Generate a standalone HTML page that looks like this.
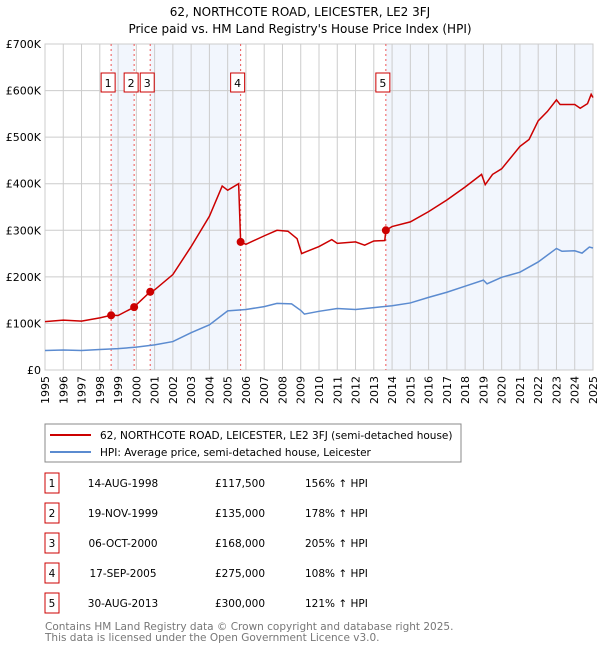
<!DOCTYPE html>
<html><head><meta charset="utf-8"><style>
body{margin:0;background:#fff;font-family:"DejaVu Sans","Liberation Sans",sans-serif;}
svg text{font-family:"DejaVu Sans","Liberation Sans",sans-serif;}
</style></head><body>
<svg id="chart" width="600" height="650" xmlns="http://www.w3.org/2000/svg">
<text x="300" y="16" text-anchor="middle" font-size="12">62, NORTHCOTE ROAD, LEICESTER, LE2 3FJ</text>
<text x="300" y="33" text-anchor="middle" font-size="12">Price paid vs. HM Land Registry's House Price Index (HPI)</text>
<g id="bands"></g><g id="grid"></g><g id="lines"></g><g id="marks"></g><g id="axes"></g>
<rect x="45" y="424" width="416" height="38" fill="none" stroke="#888"/>
<line x1="50" y1="435" x2="91" y2="435" stroke="#cc0000" stroke-width="2"/>
<text x="100" y="439" font-size="10.5">62, NORTHCOTE ROAD, LEICESTER, LE2 3FJ (semi-detached house)</text>
<line x1="50" y1="452" x2="91" y2="452" stroke="#5b8bd0" stroke-width="2"/>
<text x="100" y="456" font-size="10.5">HPI: Average price, semi-detached house, Leicester</text>
<g id="table"></g>
<text x="45" y="630" font-size="10.5" fill="#777">Contains HM Land Registry data © Crown copyright and database right 2025.</text>
<text x="45" y="641" font-size="10.5" fill="#777">This data is licensed under the Open Government Licence v3.0.</text>
</svg>
<script>
const hpiYears=[1995,1996,1997,1998,1999,2000,2001,2002,2003,2004,2005,2006,2007,2007.7,2008.5,2009,2009.2,2010,2011,2012,2013,2014,2015,2016,2017,2018,2019,2019.2,2020,2021,2022,2023,2023.3,2024,2024.4,2024.8,2025];
const hpiValues=[42,43,42,44,46,49,54,61,80,97,127,130,136,143,142,128,120,126,132,130,134,138,144,156,167,180,193,185,199,210,232,261,255,256,251,264,262];
const redYears=[1995,1996,1997,1998,1998.62,1999,1999.88,2000,2000.76,2001,2002,2003,2004,2004.7,2005,2005.6,2005.71,2006,2007,2007.7,2008.3,2008.8,2009.05,2009.3,2010,2010.7,2011,2012,2012.5,2013,2013.6,2013.66,2014,2015,2016,2017,2018,2018.9,2019.1,2019.5,2020,2021,2021.5,2022,2022.5,2023,2023.2,2024,2024.3,2024.7,2024.9,2025];
const redValues=[104,107,105,112,117.5,117,135,140,168,172,205,265,330,395,386,400,275,270,288,300,298,282,250,254,265,280,272,275,268,277,278,300,308,318,340,365,393,420,398,420,432,480,495,535,555,580,570,570,562,572,592,585];
const saleYears=[1998.62,1999.88,2000.76,2005.71,2013.66];
const salePrices=[117500,135000,168000,275000,300000];
const saleLabels=["1","2","3","4","5"];
const saleDates=["14-AUG-1998","19-NOV-1999","06-OCT-2000","17-SEP-2005","30-AUG-2013"];
const salePriceText=["£117,500","£135,000","£168,000","£275,000","£300,000"];
const saleHpiText=["156% ↑ HPI","178% ↑ HPI","205% ↑ HPI","108% ↑ HPI","121% ↑ HPI"];
const yTicks=[0,100,200,300,400,500,600,700];
const yTickLabels=["£0","£100K","£200K","£300K","£400K","£500K","£600K","£700K"];
const xTicks=[1995,1996,1997,1998,1999,2000,2001,2002,2003,2004,2005,2006,2007,2008,2009,2010,2011,2012,2013,2014,2015,2016,2017,2018,2019,2020,2021,2022,2023,2024,2025];

const NS="http://www.w3.org/2000/svg";
const X0=45,X1=593,Y0=370,Y1=44;
const xs=y=>X0+(y-1995)/30*(X1-X0);
const ys=v=>Y0-v/700*(Y0-Y1);
function mk(t,a,p){const e=document.createElementNS(NS,t);for(const k in a)e.setAttribute(k,a[k]);p.appendChild(e);return e;}
const bands=document.getElementById('bands'),grid=document.getElementById('grid'),lines=document.getElementById('lines'),marks=document.getElementById('marks'),axes=document.getElementById('axes'),table=document.getElementById('table');
const bandPairs=[[0,1],[2,3],[4,null]];
bandPairs.forEach(p=>{const a=xs(saleYears[p[0]]),b=p[1]===null?X1:xs(saleYears[p[1]]);
const r=mk('rect',{x:a,y:Y1,width:b-a,height:Y0-Y1,fill:'#eef3fc',opacity:0.75},bands);

});
xTicks.forEach(t=>{const l=mk('line',{x1:xs(t),x2:xs(t),y1:Y1,y2:Y0,stroke:'#ccc'},grid);


const tx=mk('text',{x:0,y:0,'font-size':11,'text-anchor':'end',transform:`translate(${xs(t)+4},${Y0+6}) rotate(-90)`},axes);tx.textContent=t;

});
yTicks.forEach((t,i)=>{const l=mk('line',{x1:X0,x2:X1,y1:ys(t),y2:ys(t),stroke:'#ccc'},grid);


const tx=mk('text',{x:X0-4,y:ys(t)+4,'font-size':11,'text-anchor':'end'},axes);tx.textContent=yTickLabels[i];

});
const frame=mk('rect',{x:X0,y:Y1,width:X1-X0,height:Y0-Y1,fill:'none',stroke:'#ccc'},grid);


saleYears.forEach((y,i)=>{const l=mk('line',{x1:xs(y),x2:xs(y),y1:Y1,y2:Y0,stroke:'#e55',"stroke-dasharray":'2,3'},grid);


const b=mk('rect',{x:xs(y)-10,y:73,width:14,height:19,fill:'#fff',stroke:'#cc0000'},marks);


const t=mk('text',{x:xs(y)-3,y:87,'font-size':11,'text-anchor':'middle'},marks);t.textContent=saleLabels[i];

});
const hp=mk('polyline',{points:hpiYears.map((y,i)=>xs(y)+','+ys(hpiValues[i])).join(' '),fill:'none',stroke:'#5b8bd0','stroke-width':1.5},lines);


const rp=mk('polyline',{points:redYears.map((y,i)=>xs(y)+','+ys(redValues[i])).join(' '),fill:'none',stroke:'#cc0000','stroke-width':1.5},lines);


saleYears.forEach((y,i)=>{const c=mk('circle',{cx:xs(y),cy:ys(salePrices[i]/1000),r:4,fill:'#cc0000'},marks);

});
saleLabels.forEach((l,i)=>{const yy=483+i*30;
const b=mk('rect',{x:45,y:yy-10,width:14,height:20,fill:'#fff',stroke:'#cc0000'},table);


const cols=[[52,l,'middle'],[123,saleDates[i],'middle'],[240,salePriceText[i],'middle'],[305,saleHpiText[i],'start']];
cols.forEach(c=>{const t=mk('text',{x:c[0],y:yy+4,'font-size':10.5,'text-anchor':c[2]},table);t.textContent=c[1];

});});
</script>
</body></html>
